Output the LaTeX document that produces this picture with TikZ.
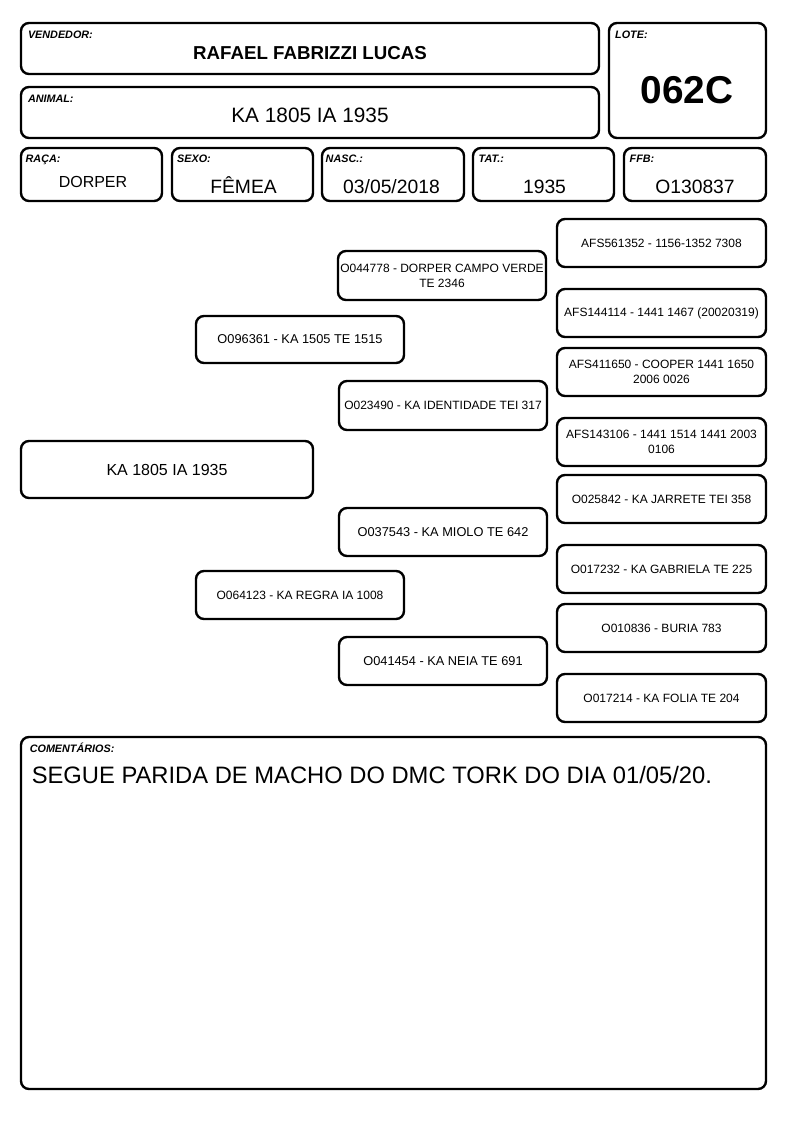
\documentclass[tikz,border=0pt]{standalone}
\usepackage{fontspec}
\setmainfont{Liberation Sans}
\begin{document}
\begin{tikzpicture}[x=1pt,y=-1pt,
 box/.style={draw, line width=2.4pt, rounded corners=8pt, inner sep=0pt},
 lbl/.style={anchor=base west, inner sep=0pt, font=\fontsize{10.8}{12}\selectfont\bfseries\itshape},
 val/.style={anchor=base, inner sep=0pt},
 ped/.style={box, align=center, minimum width=208pt, font=\fontsize{12}{15}\selectfont},
 gg/.style={box, align=center, minimum width=209pt, minimum height=48pt, font=\fontsize{12}{15}\selectfont}]
\fill[white] (0,0) rectangle (794,1123);
\useasboundingbox (0,0) rectangle (794,1123);
% header boxes
\node[box, minimum width=578pt, minimum height=51pt] (vend) at (310,48.5) {};
\node[box, minimum width=157pt, minimum height=115pt] (lote) at (687.5,80.5) {};
\node[box, minimum width=578pt, minimum height=51pt] (anim) at (310,112.5) {};
\node[box, minimum width=141pt, minimum height=53pt] (raca) at (91.5,174.5) {};
\node[box, minimum width=141pt, minimum height=53pt] (sexo) at (242.5,174.5) {};
\node[box, minimum width=142pt, minimum height=53pt] (nasc) at (393,174.5) {};
\node[box, minimum width=141pt, minimum height=53pt] (tat) at (543.5,174.5) {};
\node[box, minimum width=142pt, minimum height=53pt] (ffb) at (695,174.5) {};
% labels
\node[lbl] (lvend) at (27.8,39) {VENDEDOR:};
\node[lbl] (llote) at (615,39) {LOTE:};
\node[lbl] (lanim) at (27.8,103) {ANIMAL:};
\node[lbl] (lraca) at (25.5,163) {RAÇA:};
\node[lbl] (lsexo) at (177,163) {SEXO:};
\node[lbl] (lnasc) at (325.5,163) {NASC.:};
\node[lbl] (ltat) at (478.5,163) {TAT.:};
\node[lbl] (lffb) at (629.5,163) {FFB:};
% values
\node[val, font=\fontsize{18.7}{20}\selectfont\bfseries] (tvend) at (310,60) {RAFAEL FABRIZZI LUCAS};
\node[val, font=\fontsize{38.8}{40}\selectfont\bfseries] (tlote) at (687,103.3) {062C};
\node[val, font=\fontsize{20.8}{22}\selectfont] (tanim) at (310,122.7) {KA 1805 IA 1935};
\node[val, font=\fontsize{16}{18}\selectfont] (traca) at (93,188) {DORPER};
\node[val, font=\fontsize{19.3}{21}\selectfont] (tsexo) at (243.5,193.2) {FÊMEA};
\node[val, font=\fontsize{19.3}{21}\selectfont] (tnasc) at (391.5,193.2) {03/05/2018};
\node[val, font=\fontsize{19.3}{21}\selectfont] (ttat) at (544.5,193.2) {1935};
\node[val, font=\fontsize{19.3}{21}\selectfont] (tffb) at (695,193.2) {O130837};
% pedigree
\node[box, minimum width=292pt, minimum height=57pt, font=\fontsize{16}{18}\selectfont] (p0) at (167,469.5) {KA 1805 IA 1935};
\node[ped, minimum height=47pt, font=\fontsize{12.8}{15}\selectfont] (p1) at (300,339.5) {O096361 - KA 1505 TE 1515};
\node[ped, minimum height=48pt] (p2) at (300,595) {O064123 - KA REGRA IA 1008};
\node[ped, minimum height=49pt] (p3) at (442,275.5) {O044778 - DORPER CAMPO VERDE\\TE 2346};
\node[ped, minimum height=49pt] (p4) at (443,405.5) {O023490 - KA IDENTIDADE TEI 317};
\node[ped, minimum height=48pt, font=\fontsize{12.8}{15}\selectfont] (p5) at (443,532) {O037543 - KA MIOLO TE 642};
\node[ped, minimum height=48pt, font=\fontsize{12.8}{15}\selectfont] (p6) at (443,661) {O041454 - KA NEIA TE 691};
\node[gg] (g1) at (661.5,243) {AFS561352 - 1156-1352 7308};
\node[gg] (g2) at (661.5,313) {AFS144114 - 1441 1467 (20020319)};
\node[gg] (g3) at (661.5,372) {AFS411650 - COOPER 1441 1650\\2006 0026};
\node[gg] (g4) at (661.5,442) {AFS143106 - 1441 1514 1441 2003\\0106};
\node[gg] (g5) at (661.5,499) {O025842 - KA JARRETE TEI 358};
\node[gg] (g6) at (661.5,569) {O017232 - KA GABRIELA TE 225};
\node[gg] (g7) at (661.5,628) {O010836 - BURIA 783};
\node[gg] (g8) at (661.5,698) {O017214 - KA FOLIA TE 204};
% comments
\node[box, minimum width=745pt, minimum height=352pt] (com) at (393.5,913) {};
\node[lbl] (lcom) at (29.6,752.5) {COMENTÁRIOS:};
\node[anchor=base west, inner sep=0pt, font=\fontsize{23.75}{26}\selectfont] (tcom) at (31.6,783) {SEGUE PARIDA DE MACHO DO DMC TORK DO DIA 01/05/20.};
\end{tikzpicture}
\end{document}
